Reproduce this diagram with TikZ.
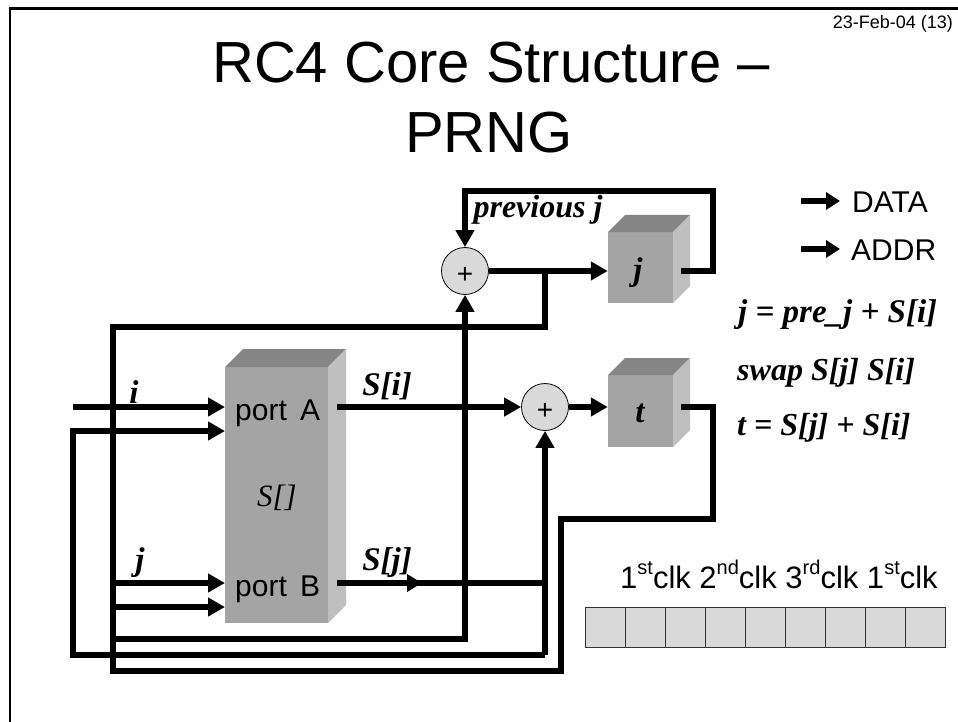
\documentclass[tikz,border=0pt]{standalone}
\usepackage{fontspec}
\setmainfont{Liberation Sans}
\newfontfamily\timesf{Liberation Serif}
\usetikzlibrary{arrows.meta}
\definecolor{boxfront}{gray}{0.645}
\definecolor{boxtop}{gray}{0.52}
\definecolor{boxside}{gray}{0.75}
\definecolor{cellfill}{gray}{0.85}
\tikzset{
  x=1pt,y=-1pt,
  wire/.style={line width=6pt,line cap=butt,line join=miter},
  awire/.style={wire,-{Triangle[length=17pt,width=18pt]}},
  sumnode/.style={circle,draw=black,line width=0.8pt,fill=cellfill,minimum size=47pt,inner sep=0pt},
  pluslab/.style={inner sep=0pt,font=\fontsize{28}{30}\selectfont},
  lab/.style={inner sep=0pt,font=\timesf\bfseries\itshape\fontsize{33}{36}\selectfont},
  labs/.style={inner sep=0pt,font=\timesf\bfseries\itshape\fontsize{32}{36}\selectfont},
  sans/.style={inner sep=0pt,font=\fontsize{30}{34}\selectfont},
  cell/.style={draw=black!80,line width=1.1pt,fill=cellfill,minimum width=40pt,minimum height=40pt,inner sep=0pt},
  front/.style={fill=boxfront},
  topf/.style={fill=boxtop},
  sidef/.style={fill=boxside}
}
\newcommand{\cube}[5]{% x0 y0 x1 y1 depth
  \fill[front] (#1,#2) rectangle (#3,#4);
  \fill[topf] (#1,#2) -- ({#1+#5},{#2-#5}) -- ({#3+#5},{#2-#5}) -- (#3,#2) -- cycle;
  \fill[sidef] (#3,#2) -- ({#3+#5},{#2-#5}) -- ({#3+#5},{#4-#5}) -- (#3,#4) -- cycle;
}
\newcommand{\sups}[1]{\raisebox{0.42em}{\fontsize{20}{20}\selectfont #1}}
\begin{document}
\begin{tikzpicture}
\useasboundingbox (0,0) rectangle (958,722);
\fill[white] (0,0) rectangle (958,722);
\draw[line width=2.6pt] (10,722) -- (10,8.5) -- (958,8.5);
\node[anchor=east,inner sep=0pt,font=\fontsize{18}{20}\selectfont] (date) at (953,24) {23-Feb-04 (13)};
\node[anchor=base,inner sep=0pt,font=\fontsize{58}{64}\selectfont] (t1) at (491,83) {RC4 Core Structure –};
\node[anchor=base,inner sep=0pt,font=\fontsize{58}{64}\selectfont] (t2) at (489,153) {PRNG};

\cube{225}{367}{328}{623}{18}
\cube{608}{232}{673}{303}{17}
\cube{608}{375}{673}{447}{17}

\node[sumnode] (s1) at (465,271) {};
\node[sumnode] (s2) at (545,407) {};
\node[pluslab] (p1) at (465,275) {+};
\node[pluslab] (p2) at (545,411) {+};
\node[inner sep=0pt,minimum width=64pt,minimum height=71pt] (jbox) at (640,271) {};
\node[inner sep=0pt,minimum width=64pt,minimum height=71pt] (tbox) at (640,407) {};

\coordinate (pa1) at (225,407);
\coordinate (pa2) at (225,431);
\coordinate (pb1) at (225,583);
\coordinate (pb2) at (225,607);

% bus from adder/t output
\coordinate (to) at (681,407);
\coordinate (t1c) at (713,407);
\coordinate (t2c) at (713,519);
\coordinate (t3c) at (561,519);
\coordinate (t4c) at (561,671);
\coordinate (t5c) at (113,671);
\coordinate (t6c) at (113,327);
\coordinate (t7c) at (545,327);
\coordinate (t8c) at (545,271);
\draw[wire] (to) -- (t1c) -- (t2c) -- (t3c) -- (t4c) -- (t5c) -- (t6c) -- (t7c) -- (t8c);

% i input
\coordinate (iin) at (73,407);
\draw[awire] (iin) -- (pa1);
% S[i] to adder
\coordinate (sio) at (337,407);
\draw[awire] (sio) -- (s2.west);
\draw[awire] (s2.east) -- (tbox.west);
% adder 1 to j
\draw[awire] (s1.east) -- (jbox.west);
% j feedback
\coordinate (jo) at (681,271);
\coordinate (fb1) at (713,271);
\coordinate (fb2) at (713,191);
\coordinate (fb3) at (465,191);
\draw[awire] (jo) -- (fb1) -- (fb2) -- (fb3) -- (s1.north);
% S[j] fan-out to adder 1
\coordinate (c0) at (113,639);
\coordinate (c1) at (465,639);
\draw[awire] (c0) -- (c1) -- (s1.south);
% loop into port A and to adder 2
\coordinate (d1) at (73,431);
\coordinate (d2) at (73,655);
\coordinate (d3) at (545,655);
\draw[awire] (d3) -- (s2.south);
\draw[awire] (d3) -- (d2) -- (d1) -- (pa2);
% port B
\coordinate (pb1s) at (113,583);
\coordinate (pb2s) at (113,607);
\draw[awire] (pb1s) -- (pb1);
\draw[awire] (pb2s) -- (pb2);
\coordinate (sjo) at (337,583);
\coordinate (sjm) at (422,583);
\coordinate (sje) at (545,583);
\draw[wire] (sjo) -- (sje);
\draw[-{Triangle[length=15pt,width=17pt]},line width=6pt] (sjo) -- (sjm);

% labels
\node[lab,anchor=base] (li) at (134,403) {i};
\node[lab,anchor=base] (lj) at (140,570) {j};
\node[lab,anchor=base] (lsi) at (387,395) {S[i]};
\node[lab,anchor=base] (lsj) at (387,570) {S[j]};
\node[lab,font=\timesf\itshape\fontsize{31}{34}\selectfont] (ls) at (277,498) {S[]};
\node[labs,anchor=base] (lp) at (538,218) {previous j};
\node[lab,anchor=base] (lj2) at (638,280) {j};
\node[lab,anchor=base] (lt2) at (640,422) {t};
\node[sans,anchor=base west] (pA) at (235,420) {port\hspace{5pt} A};
\node[sans,anchor=base west] (pB) at (235,596) {port\hspace{5pt} B};

% legend
\coordinate (la1) at (801,201); \coordinate (la2) at (840,201);
\coordinate (lb1) at (801,249); \coordinate (lb2) at (840,249);
\draw[wire,-{Triangle[length=14pt,width=17pt]}] (la1) -- (la2);
\draw[wire,-{Triangle[length=14pt,width=17pt]}] (lb1) -- (lb2);
\node[sans,anchor=base west] (ld) at (852,212) {DATA};
\node[sans,anchor=base west] (la) at (851,260) {ADDR};

\node[lab,anchor=base west] (e1) at (738,322) {j = pre\_j + S[i]};
\node[labs,anchor=base west] (e2) at (737,380) {swap S[j] S[i]};
\node[labs,anchor=base west] (e3) at (737,435) {t = S[j] + S[i]};

% clock cells
\foreach \k in {0,...,8} {
  \node[cell,anchor=north west] (c\k) at ({585+40*\k},607) {};
}
\node[sans,anchor=base west,font=\fontsize{31}{34}\selectfont] (clk) at (620,588) {1\sups{st}clk 2\sups{nd}clk 3\sups{rd}clk 1\sups{st}clk};
\end{tikzpicture}
\end{document}
